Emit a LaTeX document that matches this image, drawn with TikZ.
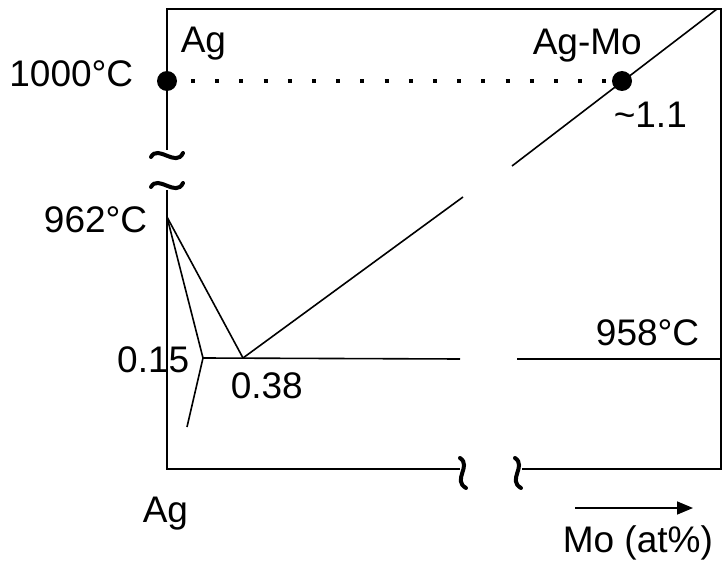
\documentclass[tikz,border=0pt]{standalone}
\usepackage{fontspec}
\setmainfont{Liberation Sans}
\usetikzlibrary{arrows.meta}
\begin{document}
\begin{tikzpicture}[x=1pt, y=-1pt, line width=1.6pt,
    lbl/.style={inner sep=0pt, font=\fontsize{37}{42}\selectfont},
    brk/.style={line width=4pt, line cap=round},
    pt/.style={fill=black}]
    \useasboundingbox (0,0) rectangle (724,567);

    % Key points of the diagram
    \coordinate (agT) at (167,81);   \coordinate (moT) at (622,81);
    \coordinate (mAg) at (167,217);  \coordinate (eut) at (243,358);
    \coordinate (sol) at (203,358);  \coordinate (solv) at (187,427);

    % Frame, broken on the left and bottom axes
    \draw (167,150) -- (167,9) -- (721,9) -- (721,469) -- (522,469);
    \draw (460,469) -- (167,469) -- (167,190);
    % Break marks
    \draw[brk] (151,157) .. controls (158,144) and (176,168) .. (183,153);
    \draw[brk] (151,187) .. controls (158,174) and (176,198) .. (183,183);
    \draw[brk] (460,458) .. controls (472,466) and (452,480) .. (466,488);
    \draw[brk] (515,458) .. controls (527,466) and (507,480) .. (521,488);

    % Liquidus, broken in the middle
    \draw (717,9) -- (512,166);
    \draw (463,197) -- (eut);
    \draw (mAg) -- (eut);
    \draw (mAg) -- (sol) -- (solv);
    % Eutectic line
    \draw (sol) -- (460,359);
    \draw (517,359) -- (721,359);

    % 1000 C isotherm
    \draw[line width=4pt, dash pattern=on 4pt off 20.2pt] (191,81) -- (607,81);
    \fill[pt] (agT) circle (10pt);
    \fill[pt] (moT) circle (10pt);

    % Labels
    \node[lbl, anchor=base east] (t1000) at (134,87) {1000°C};
    \node[lbl, anchor=base east] (t962) at (148,233) {962°C};
    \node[lbl, anchor=base east] (t958) at (700,345) {958°C};
    \node[lbl, anchor=base west] (agTop) at (180,53) {Ag};
    \node[lbl, anchor=base west] (agMo) at (532,55) {Ag-Mo};
    \node[lbl, anchor=base west] (t11) at (613,128) {\textasciitilde1.1};
    \node[lbl, anchor=base east] (t015) at (190,372) {0.15};
    \node[lbl, anchor=base west] (t038) at (230,398) {0.38};
    \node[lbl, anchor=base west] (agBot) at (142,522) {Ag};
    \node[lbl, anchor=base west] (moAt) at (562,552) {Mo (at\%)};

    % Composition arrow
    \coordinate (arrA) at (575,508); \coordinate (arrB) at (693,508);
    \draw[-{Triangle[length=16pt, width=13pt]}] (arrA) -- (arrB);
\end{tikzpicture}
\end{document}
